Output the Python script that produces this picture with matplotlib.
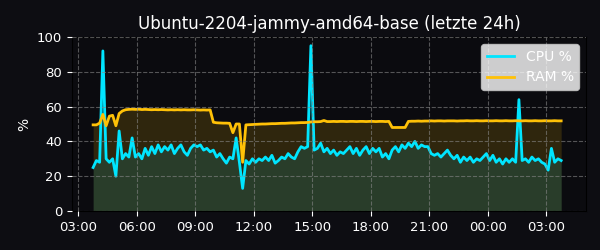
import matplotlib
matplotlib.use("Agg")
import matplotlib.pyplot as plt
import matplotlib.dates as mdates
import numpy as np
import pandas as pd

title = "Ubuntu-2204-jammy-amd64-base (letzte 24h)"
start_time = "2024-05-01 03:46"
sample_minutes = 10
x_range = ("2024-05-01 02:41", "2024-05-02 05:03")

cpu = [25, 29, 28, 92, 30, 28, 30, 20, 46, 30,
       33, 31, 42, 31, 33, 30, 36, 32, 37, 33,
       38, 34, 37, 35, 38, 33, 36, 38, 34, 32,
       36, 38, 37, 38, 35, 36, 34, 35, 31, 33,
       30, 27.5, 31, 30, 42, 28, 13, 29, 27, 30,
       28, 30, 29, 31, 29, 32, 27.5, 29, 31, 30,
       33, 31, 30, 34, 37, 36, 37, 95, 35, 36,
       39, 34, 36, 33, 35, 32, 34, 33, 35, 37,
       33, 36, 32, 35, 37, 33, 36, 34, 36, 31,
       33, 30, 35, 37, 34, 38, 36, 39, 37, 40,
       36, 38, 37, 37, 33, 32, 33, 31, 33, 35,
       32, 30, 32, 28, 31, 29, 31, 28, 30, 29,
       31, 33, 29, 32, 28, 30, 27, 30, 28, 30,
       28, 64, 29, 30, 28, 31, 29, 30, 28, 27,
       23.5, 36, 28, 30, 29]

ram = [49.5, 49.5, 50.5, 55.5, 49, 54.5, 55, 49, 56, 57.5,
       58.2, 58.4, 58.5, 58.4, 58.5, 58.3, 58.4, 58.3, 58.2, 58.3,
       58.2, 58.3, 58.2, 58.1, 58.2, 58.1, 58.2, 58.1, 58.2, 58.1,
       58.1, 58.2, 58.1, 58.0, 58.1, 58.0, 58.1, 51, 50.7, 50.6,
       50.5, 50.5, 50.4, 45, 50, 50, 28, 49.5, 49.6, 49.7,
       49.8, 49.9, 50.0, 50.0, 50.1, 50.2, 50.2, 50.3, 50.4, 50.4,
       50.5, 50.6, 50.6, 50.7, 50.8, 50.8, 50.9, 51.2, 51.3, 51.3,
       51.4, 52.0, 51.4, 51.4, 51.5, 51.4, 51.5, 51.5, 51.4, 51.5,
       51.5, 51.4, 51.5, 51.5, 51.4, 51.5, 51.5, 51.4, 51.5, 51.5,
       51.4, 51.5, 48, 48, 48, 48, 48, 51.5, 51.6, 51.6,
       51.7, 51.6, 51.7, 51.7, 51.8, 51.7, 51.8, 51.8, 51.7, 51.8,
       51.8, 51.8, 51.7, 51.8, 51.8, 51.9, 51.8, 51.8, 51.9, 51.8,
       51.8, 51.9, 51.8, 51.8, 51.9, 51.8, 51.8, 51.9, 51.8, 51.8,
       51.9, 51.8, 51.8, 51.9, 51.8, 51.8, 51.9, 51.8, 51.8, 51.9,
       51.8, 51.8, 51.9, 51.8, 51.8]

times = pd.date_range(start_time, periods=len(cpu), freq=f"{sample_minutes}min")

fig_bg = "#0d0d12"
ax_bg = "#0b0b0f"
cpu_color = "#00e5ff"
ram_color = "#ffc107"

fig = plt.figure(figsize=(6, 2.5), dpi=100, facecolor=fig_bg)
ax = fig.add_axes([0.12, 0.156, 0.857, 0.696])
ax.set_facecolor(ax_bg)

ax.fill_between(times, 0, ram, color=ram_color, alpha=0.15, linewidth=0)
ax.fill_between(times, 0, cpu, color=cpu_color, alpha=0.12, linewidth=0)
ax.plot(times, cpu, color=cpu_color, lw=2, label="CPU %")
ax.plot(times, ram, color=ram_color, lw=2, label="RAM %")

ax.set_xlim(pd.Timestamp(x_range[0]), pd.Timestamp(x_range[1]))
ax.set_ylim(0, 100)
ax.set_yticks([0, 20, 40, 60, 80, 100])
ax.xaxis.set_major_locator(mdates.HourLocator(byhour=range(0, 24, 3)))
ax.xaxis.set_major_formatter(mdates.DateFormatter("%H:%M"))

ax.grid(True, color="#888888", linestyle="--", linewidth=0.8, alpha=0.6)
ax.set_axisbelow(False)
for s in ax.spines.values():
    s.set_color("#000000")
ax.tick_params(colors="white", labelsize=9.5)
ax.set_ylabel("%", color="white", fontsize=10)
ax.set_title(title, color="white", fontsize=12)

leg = ax.legend(loc="upper right", fontsize=10, framealpha=0.8)
for t in leg.get_texts():
    t.set_color("white")

fig.savefig("out.png", dpi=100, facecolor=fig_bg)
